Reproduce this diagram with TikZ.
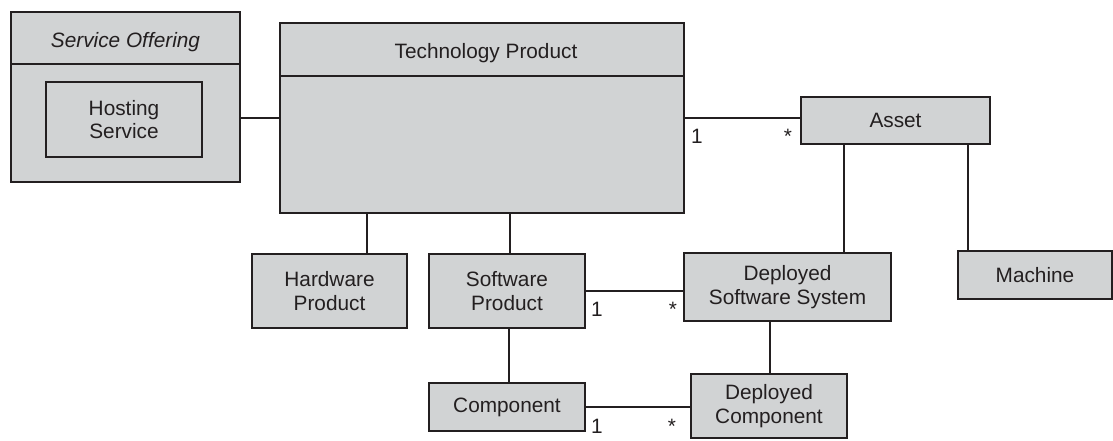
\documentclass[tikz,border=0pt]{standalone}
\usepackage{fontspec}
\setmainfont{Liberation Sans}
\definecolor{boxfill}{RGB}{209,211,212}
\definecolor{boxline}{RGB}{35,31,32}
\begin{document}
\begin{tikzpicture}[x=1pt,y=-1pt,
  txt/.style={font=\fontsize{20.8}{23.4}\selectfont, text=boxline},
  box/.style={txt, draw=boxline, fill=boxfill, line width=1.6pt, inner sep=0pt, align=center},
  link/.style={draw=boxline, line width=1.6pt},
  mult/.style={txt, anchor=base, inner sep=0pt}]
\useasboundingbox (0,0) rectangle (1113,441);

% containers with a title compartment
\node[box, minimum width=229pt, minimum height=170pt] (so) at (125.5,97) {};
\draw[link] (so.west |- 0,64) -- (so.east |- 0,64);
\node[txt, anchor=base, inner sep=0pt, font=\fontsize{20.8}{23.4}\selectfont\itshape] (sotitle) at (125.5,48) {Service Offering};
\node[box, minimum width=156pt, minimum height=75pt] (hs) at (124,119.5) {Hosting\\Service};

\node[box, minimum width=404pt, minimum height=190pt] (tp) at (482,118) {};
\draw[link] (tp.west |- 0,76) -- (tp.east |- 0,76);
\node[txt, anchor=base, inner sep=0pt] (tptitle) at (486,59) {Technology Product};

% plain classes
\node[box, minimum width=189pt, minimum height=47pt] (asset) at (895.5,120.5) {Asset};
\node[box, minimum width=154pt, minimum height=48pt] (machine) at (1035,275) {Machine};
\node[box, minimum width=155pt, minimum height=74pt] (hw) at (329.5,291) {Hardware\\Product};
\node[box, minimum width=156pt, minimum height=74pt] (sp) at (507,291) {Software\\Product};
\node[box, minimum width=207pt, minimum height=68pt] (dss) at (787.5,287) {Deployed\\Software System};
\node[box, minimum width=156pt, minimum height=48pt] (comp) at (507,407) {Component};
\node[box, minimum width=156pt, minimum height=64pt] (dc) at (769,406) {Deployed\\Component};

% vertical connector positions
\coordinate (xhw) at (367,0);
\coordinate (xsp) at (510,0);
\coordinate (xcomp) at (509,0);
\coordinate (xdss) at (844,0);
\coordinate (xmach) at (968,0);
\coordinate (xdc) at (770,0);

% associations
\draw[link] (so.east |- tp.west) -- (tp.west);
\draw[link] (tp.east) -- (asset.west |- tp.east);
\draw[link] (tp.south -| xhw) -- (hw.north -| xhw);
\draw[link] (tp.south -| xsp) -- (sp.north -| xsp);
\draw[link] (sp.south -| xcomp) -- (comp.north -| xcomp);
\draw[link] (sp.east) -- (dss.west |- sp.east);
\draw[link] (comp.east) -- (dc.west |- comp.east);
\draw[link] (asset.south -| xdss) -- (dss.north -| xdss);
\draw[link] (asset.south -| xmach) -- (machine.north -| xmach);
\draw[link] (dss.south -| xdc) -- (dc.north -| xdc);

% multiplicities
\node[mult] (m1) at (697,143) {1};
\node[mult] (m2) at (788,143) {*};
\node[mult] (m3) at (597,316) {1};
\node[mult] (m4) at (673,316) {*};
\node[mult] (m5) at (597,433) {1};
\node[mult] (m6) at (672,433) {*};
\end{tikzpicture}
\end{document}
